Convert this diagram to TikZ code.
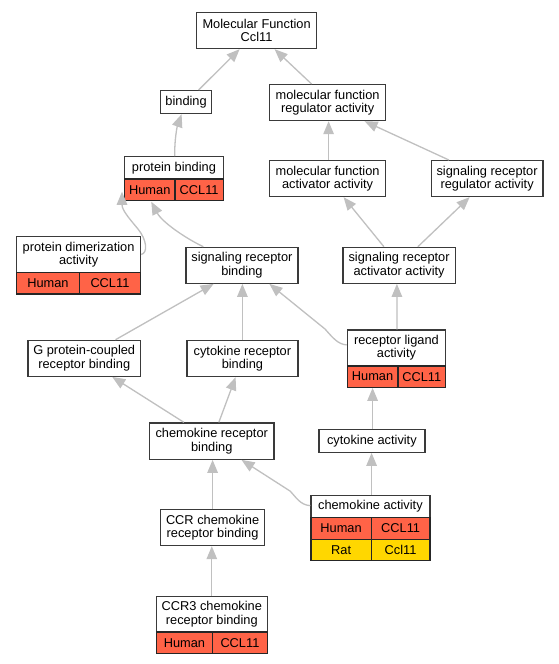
\documentclass[tikz,border=0pt]{standalone}
\usepackage{fontspec}
\setmainfont{Liberation Sans}
\usetikzlibrary{arrows.meta,calc}
\definecolor{human}{HTML}{FF6347}
\definecolor{rat}{HTML}{FFD700}
\definecolor{edgec}{HTML}{C0C0C0}
\definecolor{boxc}{HTML}{3A3A3A}
\begin{document}
\begin{tikzpicture}[x=1pt,y=-1pt,
  every node/.style={font=\fontsize{12.8}{13.3}\selectfont, inner sep=0pt, align=center, anchor=north west},
  gobox/.style={draw=boxc, line width=1.2pt, fill=white},
  cellh/.style={draw=black!85, line width=1.2pt, fill=human},
  cellr/.style={draw=black!85, line width=1.2pt, fill=rat},
  goarrow/.style={draw=edgec, line width=1.3pt, -{Triangle[length=13pt,width=10.5pt]}}]
\fill[white] (0,0) rectangle (559,664);
\useasboundingbox (0,0) rectangle (559,664);

% nodes
\node[gobox, minimum width=120pt, minimum height=36pt] (mf) at (196,12) {Molecular Function\\Ccl11};
\node[gobox, minimum width=51pt, minimum height=23pt] (bind) at (160,90) {binding};
\node[gobox, minimum width=116pt, minimum height=36pt] (mfr) at (269,84) {molecular function\\regulator activity};

\node[gobox, minimum width=98.7pt, minimum height=22.3pt] (pb) at (124,156) {protein binding};
\node[cellh, minimum width=50.3pt, minimum height=21.7pt] (pbh) at (124,178.3) {Human};
\node[cellh, minimum width=48.4pt, minimum height=21.7pt] (pbc) at (174.3,178.3) {CCL11};

\node[gobox, minimum width=116pt, minimum height=36pt] (mfa) at (269,160) {molecular function\\activator activity};
\node[gobox, minimum width=111.6pt, minimum height=36pt] (srr) at (430.7,160) {signaling receptor\\regulator activity};

\node[gobox, minimum width=124pt, minimum height=35.7pt] (pd) at (16,236) {protein dimerization\\activity};
\node[cellh, minimum width=62.7pt, minimum height=21.6pt] (pdh) at (16,271.7) {Human};
\node[cellh, minimum width=61.3pt, minimum height=21.6pt] (pdc) at (78.7,271.7) {CCL11};

\node[gobox, minimum width=112pt, minimum height=36pt] (srb) at (185.3,246.7) {signaling receptor\\binding};
\node[gobox, minimum width=112.4pt, minimum height=36pt] (sra) at (342.3,246.7) {signaling receptor\\activator activity};

\node[gobox, minimum width=112.7pt, minimum height=36pt] (gp) at (27.3,339.7) {G protein-coupled\\receptor binding};
\node[gobox, minimum width=111pt, minimum height=36pt] (crb) at (186.3,340) {cytokine receptor\\binding};

\node[gobox, minimum width=98.3pt, minimum height=36pt] (rl) at (346.7,329.3) {receptor ligand\\activity};
\node[cellh, minimum width=50.6pt, minimum height=21.4pt] (rlh) at (346.7,365.3) {Human};
\node[cellh, minimum width=47.7pt, minimum height=21.4pt] (rlc) at (397.3,365.3) {CCL11};

\node[gobox, minimum width=124.3pt, minimum height=36.4pt] (chrb) at (149,422.3) {chemokine receptor\\binding};
\node[gobox, minimum width=106pt, minimum height=22.7pt] (ca) at (318.3,429) {cytokine activity};

\node[gobox, minimum width=119pt, minimum height=22.3pt] (chea) at (310.3,494.7) {chemokine activity};
\node[cellh, minimum width=60.4pt, minimum height=21.7pt] (cheah) at (310.3,517) {Human};
\node[cellh, minimum width=58.6pt, minimum height=21.7pt] (cheac) at (370.7,517) {CCL11};
\node[cellr, minimum width=60.4pt, minimum height=21.3pt] (cher) at (310.3,538.7) {Rat};
\node[cellr, minimum width=58.6pt, minimum height=21.3pt] (cherc) at (370.7,538.7) {Ccl11};

\node[gobox, minimum width=104pt, minimum height=36pt] (ccr) at (160,509) {CCR chemokine\\receptor binding};

\node[gobox, minimum width=111pt, minimum height=35.3pt] (ccr3) at (155.7,596) {CCR3 chemokine\\receptor binding};
\node[cellh, minimum width=56.3pt, minimum height=21.7pt] (ccr3h) at (155.7,631.3) {Human};
\node[cellh, minimum width=54.7pt, minimum height=21.7pt] (ccr3c) at (212,631.3) {CCL11};

% connectors
\draw[goarrow] ($(bind.north)+(12.5,0)$) -- ($(mf.south)+(-17,0)$);
\draw[goarrow] ($(mfr.north)+(-16,0)$) -- ($(mf.south)+(18,0)$);
\draw[goarrow] ($(pb.north)+(0.7,0)$) .. controls (174.5,140) and (177,127) .. ($(bind.south)+(-4.5,0)$);
\draw[goarrow] ($(mfa.north)+(1,0)$) -- ($(mfr.south)+(1,0)$);
\draw[goarrow] ($(srr.north)+(-38.2,0)$) -- ($(mfr.south)+(37,0)$);
\draw[goarrow] (pd.east) .. controls (148,253) and (147,240) .. (138,229) .. controls (128,217) and (122,210) .. ($(pbh.west)+(-2,2)$);
\draw[goarrow] ($(srb.north)+(-38.6,0)$) .. controls (185,238) and (162,222) .. ($(pbh.south)+(1.5,0.5)$);
\draw[goarrow] ($(sra.north)+(-15.2,0)$) -- ($(mfa.south)+(16,0)$);
\draw[goarrow] ($(sra.north)+(18.8,0)$) -- ($(srr.south)+(-17.5,0)$);
\draw[goarrow] ($(gp.north)+(31.3,0)$) -- ($(srb.south)+(-28.3,0)$);
\draw[goarrow] (crb.north) -- (crb.north |- srb.south);
\draw[goarrow] ($(rl.west)+(0,-3)$) .. controls (338,344.3) and (333,338) .. (325,329) -- ($(srb.south)+(27.5,0)$);
\draw[goarrow] ($(rl.north)+(0.5,0)$) -- ($(sra.south)+(-2.2,0)$);
\draw[goarrow] ($(chrb.north)+(-27.9,0)$) -- ($(gp.south)+(28,0)$);
\draw[goarrow] ($(chrb.north)+(7.1,0)$) -- ($(crb.south)+(-6.8,0)$);
\draw[goarrow] ($(ca.north)+(0.7,0)$) -- (rlh.south);
\draw[goarrow] ($(chea.north)+(1.2,0)$) -- ($(ca.south)+(-0.3,0)$);
\draw[goarrow] ($(chea.west)+(0,-0.8)$) .. controls (300,505) and (296,497) .. (290,491) -- ($(chrb.south)+(29.8,0)$);
\draw[goarrow] (ccr.north) -- (ccr.north |- chrb.south);
\draw[goarrow] (ccr3.north) -- (ccr3.north |- ccr.south);
\end{tikzpicture}
\end{document}
